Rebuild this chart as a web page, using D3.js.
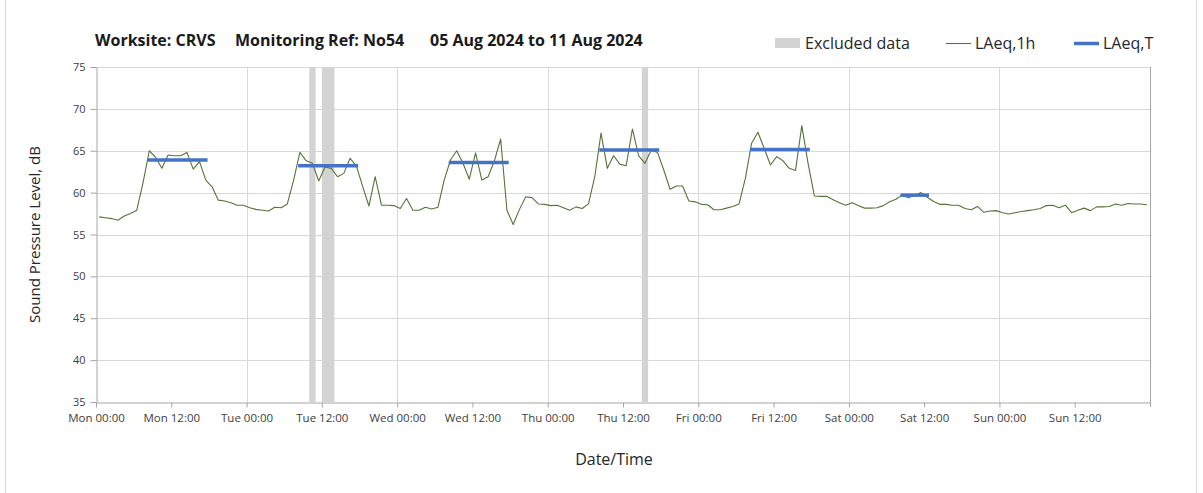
<!DOCTYPE html>
<html>
<head>
<meta charset="utf-8">
<script src="https://cdn.jsdelivr.net/npm/d3@7"></script>
<style>
  body { margin: 0; background: #fff; }
  svg { display: block; font-family: "Open Sans", Lato, sans-serif; }
</style>
</head>
<body>
<div id="chart"></div>
<script>
// hourly LAeq,1h values, one array per day (hour 00 .. 23)
var mon = [57.1, 57.0, 56.9, 56.7, 57.2, 57.5, 57.9, 61.2, 65.0, 64.2, 62.9, 64.5, 64.4, 64.4, 64.8, 62.8, 63.7, 61.5, 60.7, 59.1, 59.0, 58.8, 58.5, 58.5];
var tue = [58.2, 58.0, 57.9, 57.8, 58.25, 58.2, 58.65, 61.5, 64.8, 63.8, 63.5, 61.4, 63.05, 62.9, 61.9, 62.3, 64.1, 63.2, 60.75, 58.4, 61.9, 58.5, 58.5, 58.45];
var wed = [58.1, 59.3, 57.9, 57.9, 58.25, 58.05, 58.25, 61.5, 63.9, 65.0, 63.5, 61.6, 64.75, 61.5, 61.9, 63.8, 66.4, 57.9, 56.2, 58.0, 59.5, 59.4, 58.65, 58.6];
var thu = [58.45, 58.5, 58.2, 57.9, 58.3, 58.1, 58.65, 61.9, 67.1, 62.9, 64.4, 63.4, 63.2, 67.6, 64.4, 63.5, 65.1, 64.8, 62.7, 60.4, 60.8, 60.8, 59.0, 58.9];
var fri = [58.6, 58.55, 57.95, 57.95, 58.15, 58.35, 58.65, 61.7, 65.9, 67.2, 65.3, 63.3, 64.3, 63.8, 62.9, 62.65, 68.0, 63.5, 59.6, 59.55, 59.55, 59.15, 58.8, 58.5];
var sat = [58.8, 58.45, 58.15, 58.15, 58.2, 58.45, 58.9, 59.2, 59.7, 59.4, 59.7, 60.0, 59.45, 58.95, 58.6, 58.6, 58.5, 58.5, 58.1, 57.95, 58.35, 57.65, 57.8, 57.85];
var sun = [57.6, 57.45, 57.6, 57.75, 57.85, 57.95, 58.1, 58.45, 58.5, 58.2, 58.5, 57.6, 57.9, 58.15, 57.85, 58.3, 58.3, 58.35, 58.65, 58.5, 58.7, 58.65, 58.65, 58.55];

// LAeq,T periods (hour index from Mon 00:00, first and last hour)
var periodStart = [8, 32, 56, 80, 104, 128];
var periodEnd   = [17, 41, 65, 89, 113, 132];
var periodLevel = [63.9, 63.2, 63.6, 65.1, 65.15, 59.7];

// excluded data (hour index from Mon 00:00)
var exclStart = [34, 36, 87];
var exclEnd   = [35, 38, 88];

var tickLabels = ["Mon 00:00", "Mon 12:00", "Tue 00:00", "Tue 12:00", "Wed 00:00", "Wed 12:00",
  "Thu 00:00", "Thu 12:00", "Fri 00:00", "Fri 12:00", "Sat 00:00", "Sat 12:00", "Sun 00:00", "Sun 12:00"];
var yTicks = [35, 40, 45, 50, 55, 60, 65, 70, 75];

var hourly = mon.concat(tue, wed, thu, fri, sat, sun);

var width = 1203, height = 493;
var plotLeft = 96, plotRight = 1150, plotTop = 67, plotBottom = 402;

var svg = d3.select("#chart").append("svg")
  .attr("width", width)
  .attr("height", height);

// outer chart frame
svg.append("rect")
  .attr("x", 5.5).attr("y", -5)
  .attr("width", 1191).attr("height", 510)
  .attr("fill", "none").attr("stroke", "#d9d9d9");

var x = d3.scaleLinear().domain([0, 168]).range([plotLeft, plotRight]);
var y = d3.scaleLinear().domain([35, 75]).range([plotBottom, plotTop]);

// gridlines
svg.append("g").selectAll("line")
  .data(yTicks.slice(1))
  .join("line")
  .attr("x1", plotLeft).attr("x2", plotRight)
  .attr("y1", function(d){ return Math.round(y(d)) + 0.5; })
  .attr("y2", function(d){ return Math.round(y(d)) + 0.5; })
  .attr("stroke", "#d9d9d9");

svg.append("g").selectAll("line")
  .data(d3.range(24, 168, 24))
  .join("line")
  .attr("x1", function(d){ return Math.round(x(d)) + 0.5; })
  .attr("x2", function(d){ return Math.round(x(d)) + 0.5; })
  .attr("y1", plotTop).attr("y2", plotBottom)
  .attr("stroke", "#d9d9d9");

// excluded data bands
svg.append("g").selectAll("rect")
  .data(exclStart)
  .join("rect")
  .attr("x", function(d){ return x(d); })
  .attr("width", function(d, i){ return x(exclEnd[i]) - x(d); })
  .attr("y", plotTop)
  .attr("height", plotBottom - plotTop)
  .attr("fill", "#d3d3d3");

// axes
var xAxis = d3.axisBottom(x)
  .tickValues(d3.range(0, 168, 12))
  .tickFormat(function(d, i){ return tickLabels[i]; })
  .tickSize(5).tickSizeOuter(0);

var gx = svg.append("g")
  .attr("transform", "translate(0," + (plotBottom + 0.5) + ")")
  .call(xAxis);
gx.select(".domain").attr("stroke", "#a6a6a6");
gx.selectAll(".tick line").attr("stroke", "#a6a6a6");
gx.selectAll("text")
  .attr("dy", "1.0em")
  .attr("fill", "#404040")
  .style("font-family", "'Open Sans', sans-serif")
  .style("font-size", "11.5px");

var yAxis = d3.axisLeft(y)
  .tickValues(yTicks)
  .tickSize(6).tickSizeOuter(0).tickPadding(5);

var gy = svg.append("g")
  .attr("transform", "translate(" + (plotLeft + 0.5) + ",0)")
  .call(yAxis);
gy.select(".domain").attr("stroke", "#a6a6a6");
gy.selectAll(".tick line").attr("stroke", "#a6a6a6");
gy.selectAll("text")
  .attr("fill", "#404040")
  .style("font-family", "'Open Sans', sans-serif")
  .style("font-size", "11px");

// right border of plot
svg.append("line")
  .attr("x1", plotRight + 0.5).attr("x2", plotRight + 0.5)
  .attr("y1", plotTop).attr("y2", plotBottom + 5)
  .attr("stroke", "#a6a6a6");

// LAeq,1h line
var line = d3.line()
  .x(function(d, i){ return x(i + 0.5); })
  .y(function(d){ return y(d); });

svg.append("path")
  .datum(hourly)
  .attr("d", line)
  .attr("fill", "none")
  .attr("stroke", "#557436")
  .attr("stroke-width", 1.1)
  .attr("stroke-linejoin", "round");

// LAeq,T segments
svg.append("g").selectAll("line")
  .data(periodStart)
  .join("line")
  .attr("x1", function(d){ return x(d + 0.5); })
  .attr("x2", function(d, i){ return x(periodEnd[i] + 0.5); })
  .attr("y1", function(d, i){ return y(periodLevel[i]); })
  .attr("y2", function(d, i){ return y(periodLevel[i]); })
  .attr("stroke", "#4472c4")
  .attr("stroke-width", 3.5)
  .attr("stroke-linecap", "square");

// title
var title = svg.append("g")
  .attr("font-weight", "bold")
  .attr("font-size", "16px")
  .attr("fill", "#1a1a1a");
title.append("text").attr("x", 95).attr("y", 46).text("Worksite: CRVS");
title.append("text").attr("x", 235).attr("y", 46).text("Monitoring Ref: No54");
title.append("text").attr("x", 430).attr("y", 46).text("05 Aug 2024 to 11 Aug 2024");

// legend
var legend = svg.append("g").attr("font-size", "16px").attr("fill", "#262626");
legend.append("rect")
  .attr("x", 775).attr("y", 38).attr("width", 25).attr("height", 10)
  .attr("fill", "#d3d3d3");
legend.append("text").attr("x", 805).attr("y", 49).text("Excluded data");
legend.append("line")
  .attr("x1", 946).attr("x2", 971).attr("y1", 43.5).attr("y2", 43.5)
  .attr("stroke", "#557436").attr("stroke-width", 1.1);
legend.append("text").attr("x", 975).attr("y", 49).text("LAeq,1h");
legend.append("line")
  .attr("x1", 1074).attr("x2", 1099).attr("y1", 43.5).attr("y2", 43.5)
  .attr("stroke", "#4472c4").attr("stroke-width", 3.5);
legend.append("text").attr("x", 1103).attr("y", 49).text("LAeq,T");

// axis titles
svg.append("text")
  .attr("x", 614).attr("y", 465)
  .attr("text-anchor", "middle")
  .attr("font-size", "16px")
  .attr("fill", "#262626")
  .text("Date/Time");

svg.append("text")
  .attr("transform", "translate(40," + ((plotTop + plotBottom) / 2) + ") rotate(-90)")
  .attr("text-anchor", "middle")
  .attr("font-size", "15px")
  .attr("fill", "#262626")
  .text("Sound Pressure Level, dB");
</script>
</body>
</html>
